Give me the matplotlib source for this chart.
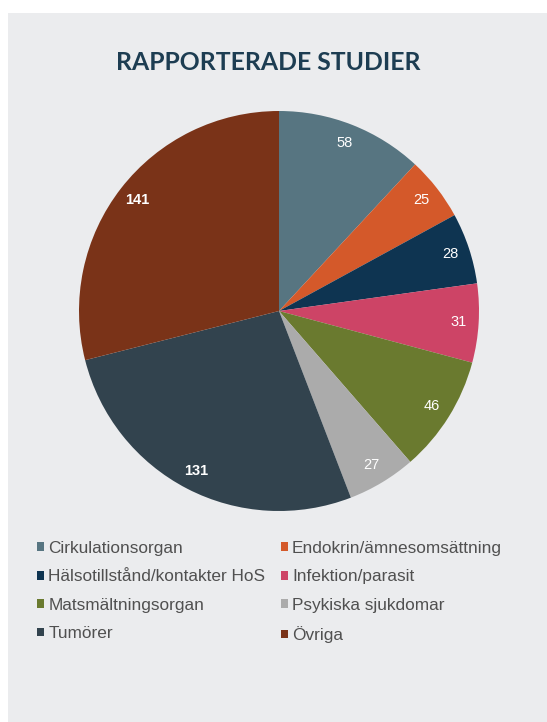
import matplotlib.pyplot as plt
from matplotlib.patches import Rectangle

# data
kategorier = ['Cirkulationsorgan', 'Endokrin/ämnesomsättning', 'Hälsotillstånd/kontakter HoS',
              'Infektion/parasit', 'Matsmältningsorgan', 'Psykiska sjukdomar', 'Tumörer', 'Övriga']
antal = [58, 25, 28, 31, 46, 27, 131, 141]
farger = ['#577581', '#d4592a', '#0e3451', '#cd4466', '#6a7a2f', '#ababab', '#32434e', '#7a3318']

W, H = 547, 722
fig = plt.figure(figsize=(W / 100, H / 100), dpi=100, facecolor='white')

# grey panel
fig.patches.append(Rectangle((8 / W, 0), 1, (H - 13) / H, transform=fig.transFigure,
                             facecolor='#ebecee', edgecolor='none', zorder=-5))

fig.text(268 / W, 1 - 63 / H, 'RAPPORTERADE STUDIER', ha='center', va='center',
         fontsize=17.8, fontweight='bold', family='Lato', color='#1d3d52')

ax = fig.add_axes([79 / W, 1 - 511 / H, 400 / W, 400 / H])
wedges, texts, autotexts = ax.pie(antal, colors=farger, startangle=90, counterclock=False,
                                  autopct=lambda p: f'{round(p * sum(antal) / 100)}',
                                  pctdistance=0.9, radius=1,
                                  wedgeprops=dict(linewidth=0),
                                  textprops=dict(color='white', fontsize=10.5, family='Liberation Sans'))
for t in autotexts:
    if t.get_text() in ('131', '141'):
        t.set_fontweight('bold')
ax.set_xlim(-1, 1)
ax.set_ylim(-1, 1)
ax.set_aspect('equal')
ax.axis('off')

# legend filled row by row
ordning = [0, 2, 4, 6, 1, 3, 5, 7]
leg = fig.legend([wedges[i] for i in ordning], [kategorier[i] for i in ordning],
                 ncol=2, loc='upper left',
                 bbox_to_anchor=(37 / W, 1 - 541 / H), frameon=False,
                 prop=dict(family='Liberation Sans', size=12.4),
                 handlelength=0.4, handleheight=0.4, handletextpad=0.25,
                 columnspacing=0.9, labelspacing=0.78, borderpad=0, borderaxespad=0)
for t in leg.get_texts():
    t.set_color('#505050')

fig.savefig('out.png', dpi=100, facecolor='white')
